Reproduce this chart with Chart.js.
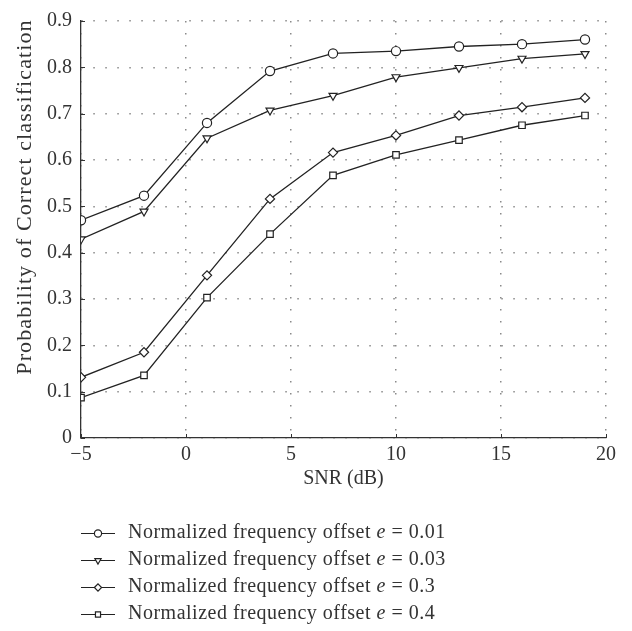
<!DOCTYPE html>
<html>
<head>
<meta charset="utf-8">
<title>Classification probability vs SNR</title>
<script src="https://cdn.jsdelivr.net/npm/chart.js@4.4.1/dist/chart.umd.min.js"></script>
<style>
  html, body { margin: 0; padding: 0; background: #fff; }
  #wrap { width: 632px; height: 631px; }
</style>
</head>
<body>
<div id="wrap"><canvas id="snrChart" width="632" height="631"></canvas></div>
<script>
// ── Data ──
const snrValues = [-5, -2, 1, 4, 7, 10, 13, 16, 19];
const offsetLabels = ['0.01', '0.03', '0.3', '0.4'];
const probE001 = [0.47, 0.523, 0.68, 0.792, 0.83, 0.835, 0.845, 0.85, 0.86];
const probE003 = [0.429, 0.489, 0.647, 0.707, 0.739, 0.779, 0.799, 0.819, 0.829];
const probE03 = [0.131, 0.185, 0.351, 0.516, 0.616, 0.653, 0.696, 0.714, 0.734];
const probE04 = [0.087, 0.135, 0.303, 0.44, 0.567, 0.611, 0.643, 0.675, 0.696];
const xTickValues = [-5, 0, 5, 10, 15, 20];
const yTickValues = [0, 0.1, 0.2, 0.3, 0.4, 0.5, 0.6, 0.7, 0.8, 0.9];
const xTitle = 'SNR (dB)';
const yTitle = 'Probability of Correct classification';

const FONT = '"Liberation Serif", "Times New Roman", serif';
const INK = '#222';
const TEXT = '#333';

const markers = [
    { pointStyle: 'circle', rotation: 0 },
    { pointStyle: 'triangle', rotation: 180 },
    { pointStyle: 'rectRot', rotation: 0 },
    { pointStyle: 'rect', rotation: 0 }
];

function toPoints(values) {
    return values.map((v, i) => ({ x: snrValues[i], y: v }));
}

const seriesValues = [probE001, probE003, probE03, probE04];
const datasets = seriesValues.map((vals, i) => ({
    label: 'Normalized frequency offset e = ' + offsetLabels[i],
    data: toPoints(vals),
    borderColor: INK,
    backgroundColor: '#fff',
    borderWidth: 1.3,
    pointStyle: markers[i].pointStyle,
    pointRotation: markers[i].rotation,
    pointRadius: 4.6,
    pointBorderWidth: 1.2,
    pointBorderColor: INK,
    pointBackgroundColor: '#fff',
    tension: 0
}));

// ── Small inward tick marks on both axes ──
const innerTicks = {
    id: 'innerTicks',
    afterDatasetsDraw(chart) {
        const { ctx, chartArea, scales } = chart;
        ctx.save();
        ctx.strokeStyle = TEXT;
        ctx.lineWidth = 1;
        ctx.beginPath();
        xTickValues.forEach(v => {
            const px = Math.round(scales.x.getPixelForValue(v)) + 0.5;
            ctx.moveTo(px, chartArea.bottom);
            ctx.lineTo(px, chartArea.bottom - 4);
        });
        yTickValues.forEach(v => {
            const py = Math.round(scales.y.getPixelForValue(v)) + 0.5;
            ctx.moveTo(chartArea.left, py);
            ctx.lineTo(chartArea.left + 4, py);
        });
        ctx.stroke();
        ctx.restore();
    }
};

// ── Rotated y-axis title (sits a little above the plot's middle) ──
const yAxisTitle = {
    id: 'yAxisTitle',
    afterDraw(chart) {
        const { ctx, chartArea } = chart;
        ctx.save();
        ctx.translate(31, chartArea.top + 176);
        ctx.rotate(-Math.PI / 2);
        ctx.font = '22px ' + FONT;
        ctx.letterSpacing = '1.1px';
        ctx.fillStyle = TEXT;
        ctx.textAlign = 'center';
        ctx.textBaseline = 'alphabetic';
        ctx.fillText(yTitle, 0, 0);
        ctx.restore();
    }
};

// ── Legend below the plot: line + marker + label with italic "e" ──
const lineLegend = {
    id: 'lineLegend',
    afterDraw(chart) {
        const { ctx, chartArea } = chart;
        const x0 = chartArea.left;
        const top = chartArea.bottom + 95;
        const rowH = 27;
        ctx.save();
        chart.data.datasets.forEach((ds, i) => {
            const y = top + i * rowH;
            ctx.strokeStyle = INK;
            ctx.lineWidth = 1.2;
            ctx.beginPath();
            ctx.moveTo(x0, y + 0.5);
            ctx.lineTo(x0 + 34, y + 0.5);
            ctx.stroke();
            ctx.fillStyle = '#fff';
            Chart.helpers.drawPoint(ctx, {
                pointStyle: ds.pointStyle,
                rotation: ds.pointRotation,
                radius: 3.6,
                borderWidth: 1.1
            }, x0 + 17, y + 0.5);

            ctx.fillStyle = TEXT;
            ctx.textBaseline = 'middle';
            ctx.textAlign = 'left';
            ctx.letterSpacing = '0.5px';
            let tx = x0 + 47;
            const parts = [
                ['Normalized frequency offset ', ''],
                ['e', 'italic '],
                [' = ' + offsetLabels[i], '']
            ];
            parts.forEach(([txt, style]) => {
                ctx.font = style + '20px ' + FONT;
                ctx.fillText(txt, tx, y);
                tx += ctx.measureText(txt).width;
            });
        });
        ctx.restore();
    }
};

const ctx = document.getElementById('snrChart').getContext('2d');
new Chart(ctx, {
    type: 'line',
    data: { datasets: datasets },
    plugins: [innerTicks, yAxisTitle, lineLegend],
    options: {
        responsive: false,
        animation: false,
        devicePixelRatio: 1,
        layout: { padding: { left: 0, right: 26, top: 11, bottom: 140 } },
        plugins: {
            legend: { display: false },
            tooltip: { enabled: false }
        },
        scales: {
            x: {
                type: 'linear',
                min: -5,
                max: 20,
                afterBuildTicks: (scale) => { scale.ticks = xTickValues.map(v => ({ value: v })); },
                afterFit: (scale) => { scale.height = 53; },
                ticks: {
                    color: TEXT,
                    font: { family: FONT, size: 20 },
                    padding: 5,
                    maxRotation: 0,
                    callback: (v) => v < 0 ? '\u2212' + Math.abs(v) : String(v)
                },
                grid: { color: '#8a8a8a', lineWidth: 1.5, drawTicks: false },
                border: { color: TEXT, width: 1.3, dash: [1.5, 10.5] },
                title: {
                    display: true,
                    text: xTitle,
                    color: TEXT,
                    font: { family: FONT, size: 20 },
                    padding: { top: 0, bottom: 0 }
                }
            },
            y: {
                min: 0,
                max: 0.9,
                afterBuildTicks: (scale) => { scale.ticks = yTickValues.map(v => ({ value: v })); },
                afterFit: (scale) => { scale.width = 81; },
                ticks: {
                    color: TEXT,
                    font: { family: FONT, size: 20 },
                    padding: 9,
                    callback: (v) => v === 0 ? '0' : v.toFixed(1)
                },
                grid: { color: '#8a8a8a', lineWidth: 1.5, drawTicks: false },
                border: { color: TEXT, width: 1.3, dash: [1.5, 10.5] }
            }
        }
    }
});
</script>
</body>
</html>
